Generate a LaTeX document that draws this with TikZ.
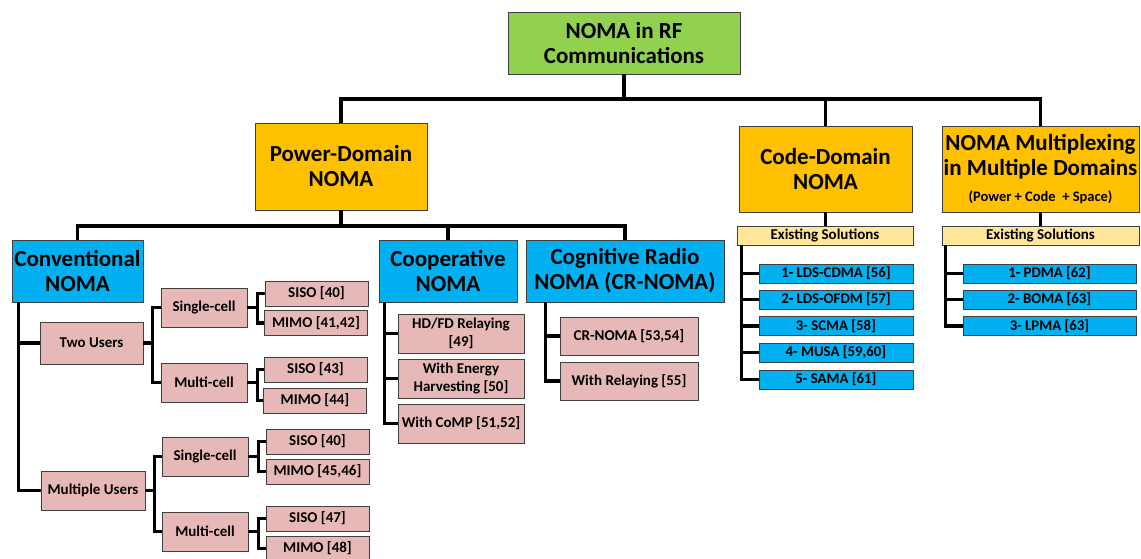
\documentclass[tikz,border=0pt]{standalone}
\usepackage{fontspec}
\setmainfont{Carlito}
\definecolor{cgreen}{HTML}{92D050}
\definecolor{corange}{HTML}{FFC000}
\definecolor{ccyan}{HTML}{00B0F0}
\definecolor{cpink}{HTML}{E6B8B7}
\definecolor{cyell}{HTML}{FFE699}
\tikzset{
  box/.style={draw=black!75, line width=0.7pt, inner sep=0pt, align=center, font=\bfseries},
  big/.style={box, font=\fontsize{23}{25}\selectfont\bfseries},
  pinkbox/.style={box, fill=cpink, font=\fontsize{15}{18}\selectfont\bfseries},
  leaf/.style={box, fill=cpink, minimum width=103pt, minimum height=25pt, font=\fontsize{15}{17}\selectfont\bfseries},
  esol/.style={box, fill=cyell, minimum height=19pt, font=\fontsize{15}{17}\selectfont\bfseries},
  item/.style={box, fill=ccyan, minimum height=19pt, font=\fontsize{14.8}{17}\selectfont\bfseries},
  conn/.style={line width=3.2pt, line join=miter},
}
\begin{document}
\begin{tikzpicture}[x=1pt,y=-1pt]
\useasboundingbox (0,0) rectangle (1141,558);
% level 0
\node[big, fill=cgreen, minimum width=232pt, minimum height=62pt] (root) at (624,43) {NOMA in RF\\Communications};
% level 1
\node[big, fill=corange, minimum width=172pt, minimum height=87pt] (pd) at (341,166.5) {Power-Domain\\NOMA};
\node[big, fill=corange, minimum width=173pt, minimum height=86pt] (cd) at (825.5,169) {Code-Domain\\NOMA};
\node[big, fill=corange, minimum width=197pt, minimum height=86pt] (mx) at (1040.5,169) {NOMA Multiplexing\\in Multiple Domains\\[1pt]{\fontsize{14.5}{16}\selectfont (Power + Code\ \ + Space)}};
% level 2 power domain
\node[big, fill=ccyan, minimum width=131pt, minimum height=62pt] (conv) at (77.5,271) {Conventional\\NOMA};
\node[big, fill=ccyan, minimum width=138pt, minimum height=62pt] (coop) at (448,271) {Cooperative\\NOMA};
\node[big, fill=ccyan, minimum width=198pt, minimum height=62pt] (cog) at (625,271) {Cognitive Radio\\NOMA (CR-NOMA)};
% conventional subtree
\node[pinkbox, minimum width=103pt, minimum height=42pt] (twou) at (91.5,343) {Two Users};
\node[pinkbox, minimum width=104pt, minimum height=39pt] (multu) at (93,490.5) {Multiple Users};
\node[pinkbox, minimum width=86pt, minimum height=39pt] (sc1) at (204,307.5) {Single-cell};
\node[pinkbox, minimum width=86pt, minimum height=39pt] (mc1) at (204,382.5) {Multi-cell};
\node[pinkbox, minimum width=86pt, minimum height=39pt] (sc2) at (205,456.5) {Single-cell};
\node[pinkbox, minimum width=86pt, minimum height=39pt] (mc2) at (205,531.5) {Multi-cell};
\node[leaf] (siso1) at (316.5,293.5) {SISO [40]};
\node[leaf] (mimo1) at (316,323) {MIMO [41,42]};
\node[leaf] (siso2) at (315.5,369.5) {SISO [43]};
\node[leaf] (mimo2) at (315,400.5) {MIMO [44]};
\node[leaf] (siso3) at (317.5,441.5) {SISO [40]};
\node[leaf] (mimo3) at (317.5,471.5) {MIMO [45,46]};
\node[leaf] (siso4) at (317.5,518.5) {SISO [47]};
\node[leaf] (mimo4) at (317.5,548.5) {MIMO [48]};
% cooperative subtree
\node[pinkbox, minimum width=126pt, minimum height=39pt] (hd) at (461,333.5) {HD/FD Relaying\\{[49]}};
\node[pinkbox, minimum width=126pt, minimum height=39pt] (eh) at (461,378.5) {With Energy\\Harvesting [50]};
\node[pinkbox, minimum width=126pt, minimum height=39pt] (comp) at (461,423.5) {With CoMP [51,52]};
% cognitive subtree
\node[pinkbox, minimum width=138pt, minimum height=38pt] (cr1) at (629,336) {CR-NOMA [53,54]};
\node[pinkbox, minimum width=138pt, minimum height=38pt] (cr2) at (629,381) {With Relaying [55]};
% code domain
\node[esol, minimum width=176pt] (es1) at (825,235.5) {Existing Solutions};
\node[item, minimum width=154pt] (l1) at (836,273.5) {1- LDS-CDMA [56]};
\node[item, minimum width=154pt] (l2) at (836,299.5) {2- LDS-OFDM [57]};
\node[item, minimum width=154pt] (l3) at (836,326) {3- SCMA [58]};
\node[item, minimum width=154pt] (l4) at (836,352.5) {4- MUSA [59,60]};
\node[item, minimum width=154pt] (l5) at (836,379.5) {5- SAMA [61]};
% multiplexing
\node[esol, minimum width=197pt] (es2) at (1040.5,235.5) {Existing Solutions};
\node[item, minimum width=173pt] (p1) at (1049.5,273.5) {1- PDMA [62]};
\node[item, minimum width=173pt] (p2) at (1049.5,299.5) {2- BOMA [63]};
\node[item, minimum width=173pt] (p3) at (1049.5,326) {3- LPMA [63]};
% connectors
\coordinate (bus1) at (624,99);
\coordinate (bus2) at (341,226);
\draw[conn] (root.south) -- (bus1);
\draw[conn] (pd.north) -- (pd.north |- bus1) -- (mx.north |- bus1) -- (mx.north);
\draw[conn] (cd.north) -- (cd.north |- bus1);
\draw[conn] (pd.south) -- (bus2);
\draw[conn] (conv.north) -- (conv.north |- bus2) -- (cog.north |- bus2) -- (cog.north);
\draw[conn] (coop.north) -- (coop.north |- bus2);
\draw[conn] ([xshift=7pt]conv.south west) |- (multu.west);
\draw[conn] ([xshift=7pt]conv.south west |- twou.west) -- (twou.west);
\draw[conn] (twou.east) -- ++(9,0);
\draw[conn] (sc1.west) -| ([xshift=9pt]twou.east) |- (mc1.west);
\draw[conn] (multu.east) -- ++(9,0);
\draw[conn] (sc2.west) -| ([xshift=9pt]multu.east) |- (mc2.west);
\draw[conn] (sc1.east) -- ++(10,0);
\draw[conn] (siso1.west) -| ([xshift=10pt]sc1.east) |- (mimo1.west);
\draw[conn] (mc1.east) -- ++(10,0);
\draw[conn] (siso2.west) -| ([xshift=10pt]mc1.east) |- (mimo2.west);
\draw[conn] (sc2.east) -- ++(10,0);
\draw[conn] (siso3.west) -| ([xshift=10pt]sc2.east) |- (mimo3.west);
\draw[conn] (mc2.east) -- ++(10,0);
\draw[conn] (siso4.west) -| ([xshift=10pt]mc2.east) |- (mimo4.west);
\draw[conn] ([xshift=6pt]coop.south west) |- (comp.west);
\draw[conn] ([xshift=6pt]coop.south west |- hd.west) -- (hd.west);
\draw[conn] ([xshift=6pt]coop.south west |- eh.west) -- (eh.west);
\draw[conn] ([xshift=20pt]cog.south west) |- (cr2.west);
\draw[conn] ([xshift=20pt]cog.south west |- cr1.west) -- (cr1.west);
\draw[conn] (cd.south) -- (cd.south |- es1.north);
\draw[conn] (mx.south) -- (mx.south |- es2.north);
\draw[conn] ([xshift=5pt]es1.south west) |- (l5.west);
\foreach \n in {l1,l2,l3,l4}{\draw[conn] ([xshift=5pt]es1.south west |- \n.west) -- (\n.west);}
\draw[conn] ([xshift=4pt]es2.south west) |- (p3.west);
\foreach \n in {p1,p2}{\draw[conn] ([xshift=4pt]es2.south west |- \n.west) -- (\n.west);}
\end{tikzpicture}
\end{document}
